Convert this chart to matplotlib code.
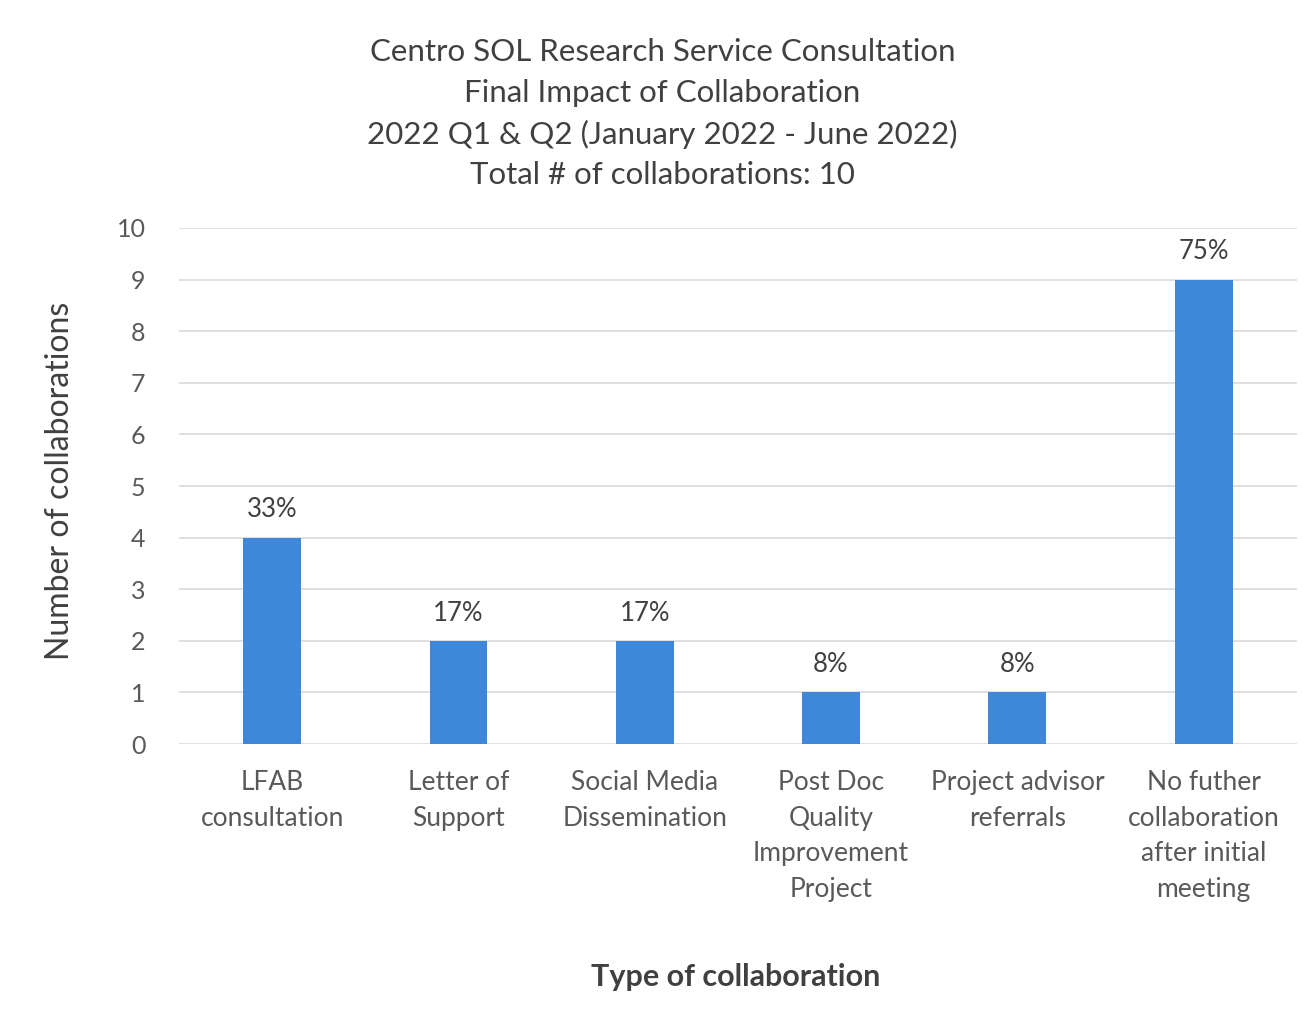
import numpy as np
import matplotlib.pyplot as plt

# data
categories = ['LFAB\nconsultation', 'Letter of\nSupport', 'Social Media\nDissemination',
              'Post Doc\nQuality\nImprovement\nProject', 'Project advisor\nreferrals',
              'No futher\ncollaboration\nafter initial\nmeeting']
counts = [4, 2, 2, 1, 1, 9]
pct_labels = ['33%', '17%', '17%', '8%', '8%', '75%']
yticks = list(range(0, 11))

title = ('Centro SOL Research Service Consultation\n'
         'Final Impact of Collaboration\n'
         '2022 Q1 & Q2 (January 2022 - June 2022)\n'
         'Total # of collaborations: 10')

plt.rcParams['font.family'] = ['Lato', 'DejaVu Sans']

fig = plt.figure(figsize=(13.09, 10.11), dpi=100)
ax = fig.add_axes([0.1367, 0.264, 0.854, 0.5105])

x = np.arange(len(categories))
bars = ax.bar(x, counts, width=0.31, color='#3F87D8', zorder=3)

for xi, c, lab in zip(x, counts, pct_labels):
    ax.annotate(lab, (xi, c), xytext=(0, 11), textcoords='offset points',
                ha='center', va='bottom', fontsize=18.5, color='#404040')

ax.set_xlim(-0.5, len(categories) - 0.5)
ax.set_ylim(0, 10)
ax.set_yticks(yticks)
ax.set_xticks(x)
ax.set_xticklabels(categories, fontsize=19, color='#595959', linespacing=1.52)
ax.tick_params(axis='y', labelsize=18, labelcolor='#595959', length=0, pad=24)
ax.tick_params(axis='x', length=0, pad=19)
ax.grid(axis='y', color='#d9d9d9', linewidth=1.2, zorder=0)
for s in ax.spines.values():
    s.set_visible(False)

ax.set_ylabel('Number of collaborations', fontsize=23, color='#404040')
ax.yaxis.set_label_coords(-0.093, 0.51)
ax.set_xlabel('Type of collaboration', fontsize=22, color='#404040', fontweight='bold')
ax.xaxis.set_label_coords(0.498, -0.425)

fig.text(0.506, 0.962, title, ha='center', va='top', fontsize=22.5,
         color='#404040', linespacing=1.54)

fig.savefig('out.png', dpi=100)
